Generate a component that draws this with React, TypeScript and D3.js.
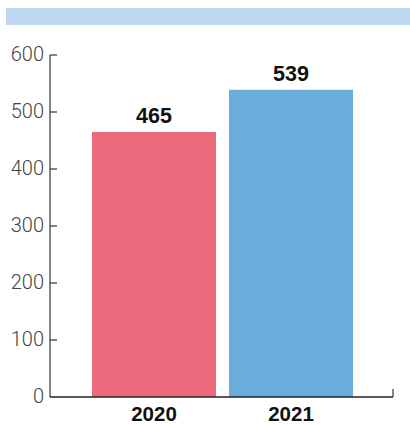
import React from "react";
import * as d3 from "d3";

const categories = ["2020", "2021"];
const values = [465, 539];
const colors = ["#EB6B7D", "#6AACDA"];
const yTicks = [0, 100, 200, 300, 400, 500, 600];

export default function App() {
  const W = 410, H = 425;
  const x0 = 50, x1 = 393;
  const y = d3.scaleLinear().domain([0, 600]).range([397, 55]);
  const x = d3.scaleBand().domain(categories).range([92, 353]).paddingInner(0.0949).paddingOuter(0);
  const lightFont = "Roboto, 'Liberation Sans', Arial, sans-serif";
  const boldFont = "'Liberation Sans', Arial, Helvetica, sans-serif";
  return (
    <svg width={W} height={H} style={{ position: "absolute", left: 0, top: 0 }}>
      <rect x={6} y={8} width={404} height={17} fill="#BDD7EE" />
      {categories.map((c, i) => (
        <g key={c}>
          <rect x={x(c)} y={y(values[i])} width={x.bandwidth()} height={y(0) - y(values[i])} fill={colors[i]} />
          <text x={x(c)! + x.bandwidth() / 2} y={y(values[i]) - 8.5} textAnchor="middle" fontFamily={boldFont} fontWeight="bold" fontSize={21.5} fill="#111">{values[i]}</text>
          <text x={x(c)! + x.bandwidth() / 2} y={420.5} textAnchor="middle" fontFamily={boldFont} fontWeight="bold" fontSize={20.5} fill="#111">{c}</text>
        </g>
      ))}
      <line x1={x0} x2={x0} y1={y(600)} y2={y(0)} stroke="#333" strokeWidth={1.2} />
      <line x1={x0} x2={x1} y1={y(0)} y2={y(0)} stroke="#222" strokeWidth={1.5} />
      <line x1={x1} x2={x1} y1={y(0) - 8} y2={y(0)} stroke="#333" strokeWidth={1.2} />
      {yTicks.map((t) => (
        <g key={t}>
          {t > 0 && <line x1={x0} x2={x0 + 7} y1={y(t)} y2={y(t)} stroke="#333" strokeWidth={1.2} />}
          <text x={44} y={y(t) - 1.5} dy="0.35em" textAnchor="end" fontFamily={lightFont} fontWeight={300} fontSize={20} fill="#444">{t}</text>
        </g>
      ))}
    </svg>
  );
}
